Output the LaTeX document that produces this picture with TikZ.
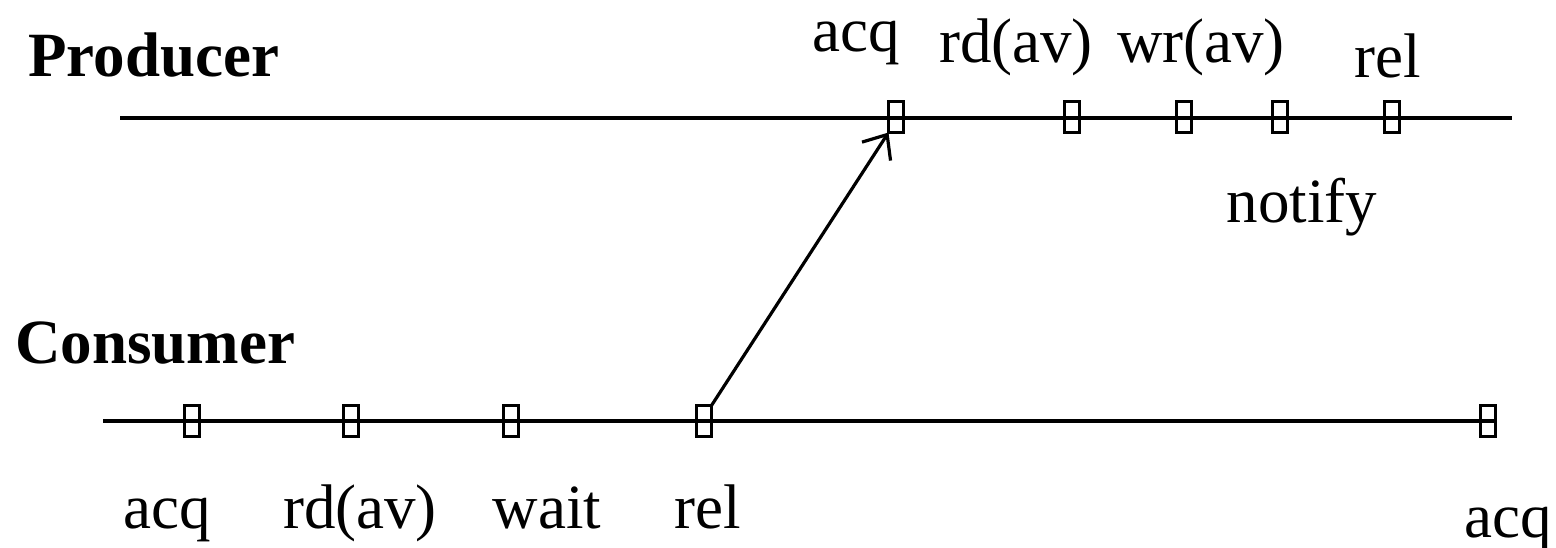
\documentclass[tikz,border=0pt]{standalone}
\usepackage{fontspec}
\setmainfont{Liberation Serif}
\usetikzlibrary{arrows.meta}
\begin{document}
\begin{tikzpicture}[x=1pt,y=-1pt,
  tick/.style={draw,line width=3.5pt,rectangle,minimum width=15pt,minimum height=31pt,inner sep=0pt,outer sep=0pt},
  lbl/.style={anchor=base,inner sep=0pt,font=\fontsize{63}{75}\selectfont},
  title/.style={anchor=base west,inner sep=0pt,font=\fontsize{63}{75}\selectfont\bfseries},
  timeline/.style={line width=3.5pt},
  msg/.style={line width=3.2pt,-{Straight Barb[length=20pt,width=34pt]}}]
\useasboundingbox (0,0) rectangle (1556,548);
% titles
\node[title] (prod) at (28,77) {Producer};
\node[title] (cons) at (15,363) {Consumer};
% timeline ends
\coordinate (ps) at (120,118);
\coordinate (pe) at (1512,118);
\coordinate (cs) at (103,421);
\coordinate (ce) at (1497,421);
\draw[timeline] (ps) -- (pe);
\draw[timeline] (cs) -- (ce);
% producer ticks
\node[tick] (p1) at (896,117) {};
\node[tick] (p2) at (1072,117) {};
\node[tick] (p3) at (1184,117) {};
\node[tick] (p4) at (1280,117) {};
\node[tick] (p5) at (1392,117) {};
% consumer ticks
\node[tick] (c1) at (192,421) {};
\node[tick] (c2) at (351,421) {};
\node[tick] (c3) at (511,421) {};
\node[tick] (c4) at (704,421) {};
\node[tick] (c5) at (1488,421) {};
% producer labels
\node[lbl] (lp1) at (856,52) {acq};
\node[lbl] (lp2) at (1016,63) {rd(av)};
\node[lbl] (lp3) at (1201,63) {wr(av)};
\node[lbl] (lp5) at (1388,78) {rel};
\node[lbl] (lp4) at (1302,223) {notify};
% consumer labels
\node[lbl] (lc1) at (167,528) {acq};
\node[lbl] (lc2) at (360,528) {rd(av)};
\node[lbl] (lc3) at (547,528) {wait};
\node[lbl] (lc4) at (708,528) {rel};
\node[lbl] (lc5) at (1508,537) {acq};
% message
\draw[msg] (c4.north east) -- (p1.south west);
\end{tikzpicture}
\end{document}
